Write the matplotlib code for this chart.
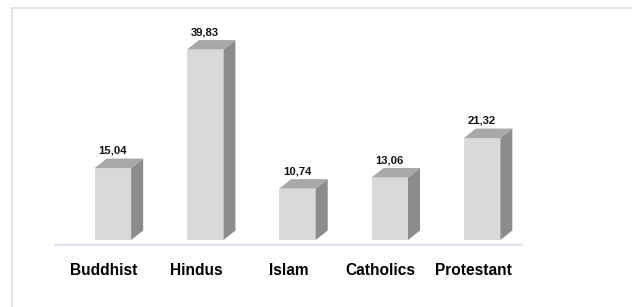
import matplotlib
matplotlib.use("Agg")
import matplotlib.pyplot as plt
from matplotlib.patches import Polygon
from matplotlib.lines import Line2D

categories = ["Buddhist", "Hindus", "Islam", "Catholics", "Protestant"]
values = [15.04, 39.83, 10.74, 13.06, 21.32]
value_labels = ["15,04", "39,83", "10,74", "13,06", "21,32"]

FRONT = "#d9d9d9"
SIDE = "#8c8c8c"
TOP = "#a8a8a8"

plt.rcParams["font.family"] = ["Liberation Sans", "DejaVu Sans"]

fig = plt.figure(figsize=(6.32, 3.07), dpi=100)
W, H = 632, 307
ax = fig.add_axes([55 / W, (H - 245) / H, 467 / W, 237 / H])
ax.set_xlim(-0.53, 4.53)
ax.set_ylim(-1.05, 48.53)

bar_w = 0.395
shift = 0.0975
dx = 0.13
dy = 1.99

for i, (v, lab) in enumerate(zip(values, value_labels)):
    x0 = i + shift - bar_w / 2
    x1 = x0 + bar_w
    ax.bar(x0, v, width=bar_w, align="edge", color=FRONT, edgecolor="none", zorder=3)
    side = Polygon([(x1, 0), (x1 + dx, dy), (x1 + dx, v + dy), (x1, v)],
                   closed=True, facecolor=SIDE, edgecolor="none", zorder=3)
    top = Polygon([(x0, v), (x0 + dx, v + dy), (x1 + dx, v + dy), (x1, v)],
                  closed=True, facecolor=TOP, edgecolor="none", zorder=3)
    ax.add_patch(side)
    ax.add_patch(top)
    ax.text(i + shift, v + dy + 1.0, lab, ha="center", va="baseline",
            fontsize=8.1, fontweight="bold", color="#111111")
    ax.text(i, -7.4, categories[i], ha="center", va="baseline",
            fontsize=11.2, fontweight="bold", color="#000000")

for s in ["top", "right", "left"]:
    ax.spines[s].set_visible(False)
ax.spines["bottom"].set_color("#dde3ee")
ax.spines["bottom"].set_linewidth(1.6)
ax.set_xticks([])
ax.set_yticks([])
ax.patch.set_alpha(0)

# outer frame (top and left edges visible)
fig.add_artist(Line2D([11.5 / W, 1.0], [(H - 7.5) / H, (H - 7.5) / H],
                      color="#dcdfe6", linewidth=1.2))
fig.add_artist(Line2D([11.5 / W, 11.5 / W], [0, (H - 7.5) / H],
                      color="#dcdfe6", linewidth=1.2))

fig.savefig("out.png", dpi=100)
